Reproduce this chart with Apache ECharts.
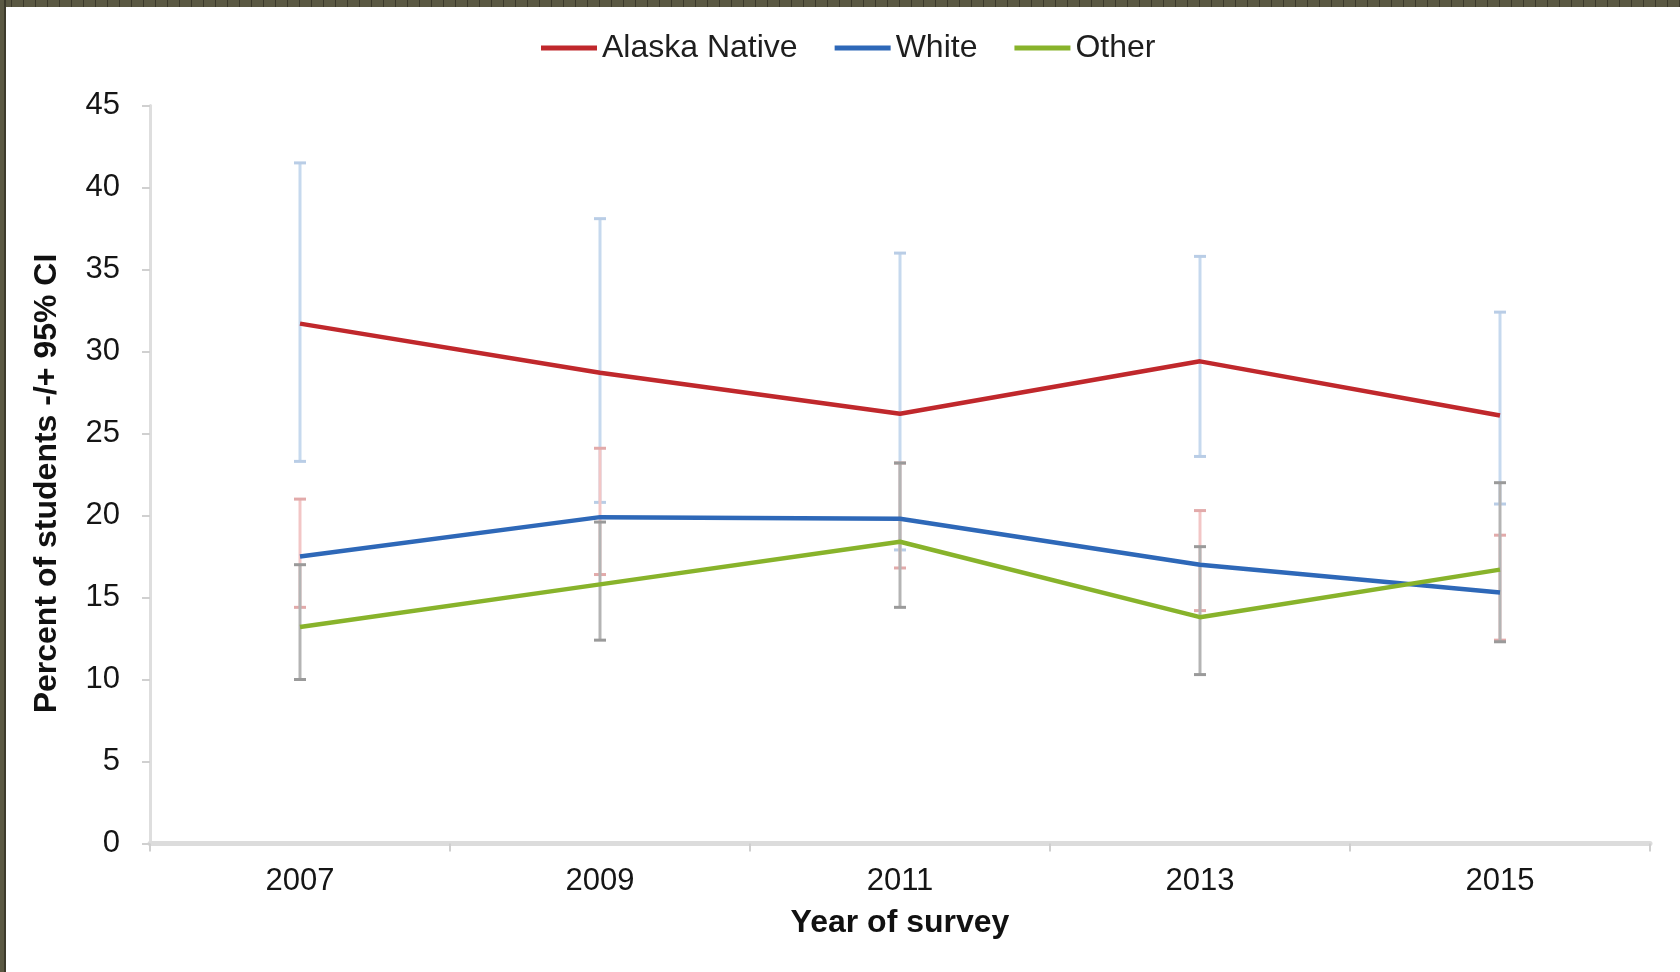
<!DOCTYPE html>
<html>
<head>
<meta charset="utf-8">
<title>Percent of students by year of survey</title>
<script src="https://cdn.jsdelivr.net/npm/echarts@6/dist/echarts.min.js"></script>
<style>
  html, body { margin: 0; padding: 0; background: #ffffff; }
  #chart { width: 1680px; height: 972px; }
  .frame-top {
    position: absolute; left: 0; top: 0; width: 1680px; height: 7px;
    background: repeating-linear-gradient(90deg, #5b5943 0px, #5b5943 11px, #3c3a2b 11px, #3c3a2b 12px);
    pointer-events: none;
  }
  .frame-left {
    position: absolute; left: 0; top: 0; width: 6px; height: 972px;
    background: linear-gradient(90deg, #5b5943 0px, #5b5943 4px, #3c3a2b 4px, #3c3a2b 6px);
    pointer-events: none;
  }
</style>
</head>
<body>
<div id="chart"></div>
<div class="frame-top"></div>
<div class="frame-left"></div>
<script>
// Survey years (x categories)
const years = ['2007', '2009', '2011', '2013', '2015'];

// Point estimates (percent of students)
const alaskaNative = [31.7, 28.7, 26.2, 29.4, 26.1];
const white        = [17.5, 19.9, 19.8, 17.0, 15.3];
const other        = [13.2, 15.8, 18.4, 13.8, 16.7];

// 95% confidence limits
const alaskaNativeLow  = [23.3, 20.8, 17.9, 23.6, 20.7];
const alaskaNativeHigh = [41.5, 38.1, 36.0, 35.8, 32.4];
const whiteLow  = [14.4, 16.4, 16.8, 14.2, 12.4];
const whiteHigh = [21.0, 24.1, 23.2, 20.3, 18.8];
const otherLow  = [10.0, 12.4, 14.4, 10.3, 12.3];
const otherHigh = [17.0, 19.6, 23.2, 18.1, 22.0];

// Y axis ticks
const yMin = 0, yMax = 45, yStep = 5;

const FONT = '"Liberation Sans", Arial, sans-serif';

function ciData(low, high) {
  return years.map((_, i) => [i, low[i], high[i]]);
}

// Vertical CI bar with caps at both ends
function errorBarRenderer(barColor, capColor) {
  return function (params, api) {
    const i = api.value(0);
    const lo = api.coord([i, api.value(1)]);
    const hi = api.coord([i, api.value(2)]);
    const half = 6;
    return {
      type: 'group',
      children: [
        { type: 'line', shape: { x1: lo[0], y1: lo[1], x2: hi[0], y2: hi[1] },
          style: { stroke: barColor, lineWidth: 3 } },
        { type: 'line', shape: { x1: hi[0] - half, y1: hi[1], x2: hi[0] + half, y2: hi[1] },
          style: { stroke: capColor, lineWidth: 3 } },
        { type: 'line', shape: { x1: lo[0] - half, y1: lo[1], x2: lo[0] + half, y2: lo[1] },
          style: { stroke: capColor, lineWidth: 3 } }
      ]
    };
  };
}

const chart = echarts.init(document.getElementById('chart'), null, { renderer: 'canvas' });

chart.setOption({
  animation: false,
  backgroundColor: '#ffffff',
  textStyle: { fontFamily: FONT },
  legend: {
    data: ['Alaska Native', 'White', 'Other'],
    left: 541,
    top: 32,
    padding: 0,
    icon: 'rect',
    itemWidth: 56,
    itemHeight: 5,
    itemGap: 37,
    textStyle: { fontFamily: FONT, fontSize: 32, color: '#1e1e1e' }
  },
  grid: { left: 150, right: 30, top: 105.5, bottom: 128.5 },
  xAxis: {
    type: 'category',
    data: years,
    boundaryGap: true,
    name: 'Year of survey',
    nameLocation: 'middle',
    nameGap: 64,
    nameTextStyle: { fontFamily: FONT, fontSize: 32, fontWeight: 'bold', color: '#111111' },
    axisLine: { lineStyle: { color: '#dcdcdc', width: 5 } },
    axisTick: { show: true, length: 8, lineStyle: { color: '#cfcfcf', width: 2 } },
    axisLabel: { fontFamily: FONT, fontSize: 31, color: '#151515', margin: 22 },
    splitLine: { show: false }
  },
  yAxis: {
    type: 'value',
    min: yMin,
    max: yMax,
    interval: yStep,
    name: 'Percent of students -/+ 95% CI',
    nameLocation: 'middle',
    nameGap: 87,
    nameTextStyle: {
      fontFamily: FONT, fontSize: 32, fontWeight: 'bold', color: '#111111',
      padding: [0, 18, 0, 0]
    },
    axisLine: { show: true, lineStyle: { color: '#dedede', width: 3 } },
    axisTick: { show: true, length: 8, lineStyle: { color: '#d0d0d0', width: 2 } },
    axisLabel: { fontFamily: FONT, fontSize: 31, color: '#151515', margin: 30 },
    splitLine: { show: false }
  },
  series: [
    {
      name: 'Alaska Native CI', type: 'custom', z: 1,
      renderItem: errorBarRenderer('#c6d9ee', '#b9cde6'),
      encode: { x: 0, y: [1, 2] },
      data: ciData(alaskaNativeLow, alaskaNativeHigh)
    },
    {
      name: 'White CI', type: 'custom', z: 2,
      renderItem: errorBarRenderer('#f2c6c6', '#e2aaaa'),
      encode: { x: 0, y: [1, 2] },
      data: ciData(whiteLow, whiteHigh)
    },
    {
      name: 'Other CI', type: 'custom', z: 3,
      renderItem: errorBarRenderer('#b4b4b4', '#9a9a9a'),
      encode: { x: 0, y: [1, 2] },
      data: ciData(otherLow, otherHigh)
    },
    {
      name: 'Alaska Native', type: 'line', z: 10,
      data: alaskaNative, symbol: 'none',
      itemStyle: { color: '#c0282c' },
      lineStyle: { color: '#c0282c', width: 4.5 }
    },
    {
      name: 'White', type: 'line', z: 10,
      data: white, symbol: 'none',
      itemStyle: { color: '#2e68b8' },
      lineStyle: { color: '#2e68b8', width: 4.5 }
    },
    {
      name: 'Other', type: 'line', z: 10,
      data: other, symbol: 'none',
      itemStyle: { color: '#88b32b' },
      lineStyle: { color: '#88b32b', width: 4.5 }
    }
  ]
});
</script>
</body>
</html>
